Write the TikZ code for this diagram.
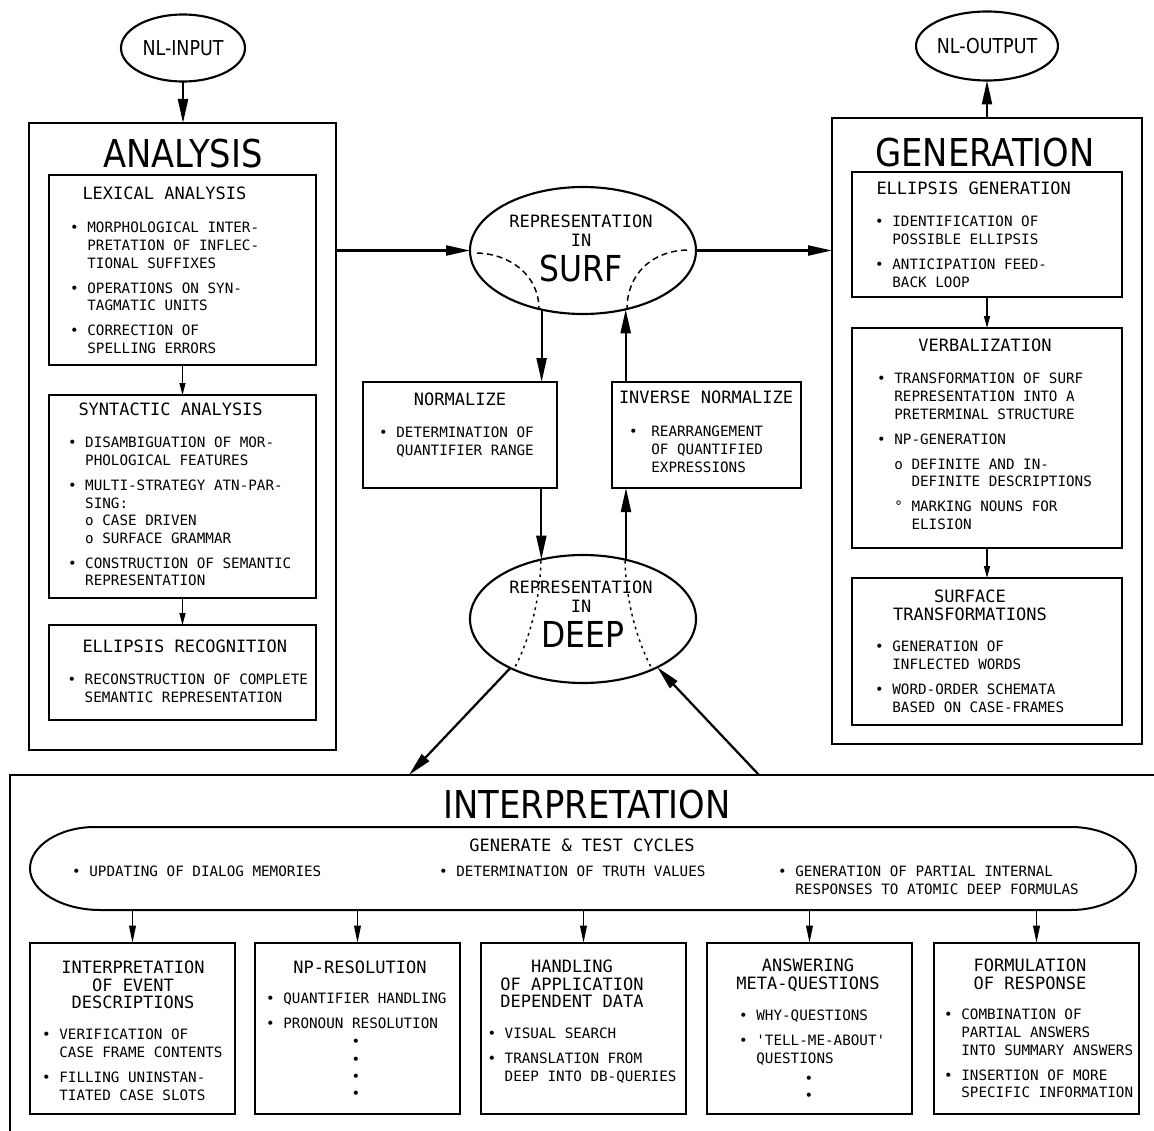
\documentclass[tikz,border=0pt]{standalone}
\usepackage{fontspec}
\setmainfont{DejaVu Sans Mono}
\newfontfamily\titlefam[FakeStretch=0.88]{DejaVu Sans}
\newfontfamily\ovalfam[FakeStretch=0.85]{DejaVu Sans}
\usetikzlibrary{arrows.meta,shapes.geometric}

\newcommand\bodyfont{\fontsize{10.7}{13.2}\selectfont}
\newcommand\headfont{\fontsize{12.75}{13.1}\selectfont}
\newcommand\bigfont{\titlefam\fontsize{28.8}{30}\selectfont}
\newcommand\surffont{\titlefam\fontsize{26.8}{28}\selectfont}
\newcommand\ovalfont{\ovalfam\fontsize{15.4}{16}\selectfont}
\newcommand\bi{\textbullet\ }
\newcommand\ci{\hspace*{1.204em}}
\newcommand\gap{5.55pt}
\def\px{*0.75pt}

\tikzset{every picture/.style={line width=0.75pt}}
\tikzset{
  outerbox/.style={draw, rectangle, anchor=north west, inner sep=0, outer sep=0, line width=2pt},
  inbox/.style={draw, rectangle, anchor=north west, inner sep=0, outer sep=0, line width=1.5pt},
  oval/.style={draw, ellipse, inner sep=0, outer sep=0, line width=1.6pt},
  hd/.style={font=\headfont, inner sep=0, align=center},
  hdl/.style={font=\headfont, inner sep=0, anchor=north west},
  bd/.style={font=\bodyfont, inner sep=0, align=left, anchor=north west},
  arr/.style={-{Triangle[length=18pt,width=7.5pt]}, line width=1.7pt},
  sarr/.style={-{Triangle[length=9pt,width=4.5pt]}, line width=1.1pt},
  iarr/.style={-{Triangle[length=13pt,width=5pt]}, line width=1.2pt},
  dsh/.style={dash pattern=on 4.5pt off 3pt, line width=1.1pt},
  dtt/.style={dash pattern=on 2pt off 3pt, line width=1.1pt}
}

\begin{document}
\begin{tikzpicture}[x=0.75pt,y=0.75pt,yscale=-1,xscale=1]
	\useasboundingbox (0,0) rectangle (1154,1131);

	%Shape: Ellipse [NL-INPUT / NL-OUTPUT]
	\node[oval, font=\ovalfont, minimum width=124\px, minimum height=67\px] (nlin) at (183,48) {NL-INPUT};
	\node[oval, font=\ovalfont, minimum width=122\px, minimum height=69\px] (nlout) at (987,46) {NL-OUTPUT};

	%Shape: Rectangle [ANALYSIS]
	\node[outerbox, minimum width=307\px, minimum height=627\px] (ana) at (29,123) {};
	\node[inbox, minimum width=267\px, minimum height=190\px] (lex) at (49,175) {};
	\node[inbox, minimum width=267\px, minimum height=203\px] (syn) at (49,395) {};
	\node[inbox, minimum width=267\px, minimum height=95\px] (ell) at (49,625) {};

	% Text Node
	\node[font=\bigfont, inner sep=0] (anat) at (183,154) {ANALYSIS};
	\node[hdl] (lext) at (82,186.8) {LEXICAL ANALYSIS};
	\node[bd] (lexb) at (69.7,221.8) {\bi MORPHOLOGICAL INTER-\\ \ci PRETATION OF INFLEC-\\ \ci TIONAL SUFFIXES\\[\gap]
		\bi OPERATIONS ON SYN-\\ \ci TAGMATIC UNITS\\[\gap]
		\bi CORRECTION OF\\ \ci SPELLING ERRORS};
	\node[hdl] (synt) at (78,402.8) {SYNTACTIC ANALYSIS};
	\node[bd] (synb) at (67.5,436.8) {\bi DISAMBIGUATION OF MOR-\\ \ci PHOLOGICAL FEATURES\\[\gap]
		\bi MULTI-STRATEGY ATN-PAR-\\ \ci SING:\\ \ci o CASE DRIVEN\\ \ci o SURFACE GRAMMAR\\[\gap]
		\bi CONSTRUCTION OF SEMANTIC\\ \ci REPRESENTATION};
	\node[hdl] (ellt) at (82,639.8) {ELLIPSIS RECOGNITION};
	\node[bd] (ellb) at (67,673.8) {\bi RECONSTRUCTION OF COMPLETE\\ \ci SEMANTIC REPRESENTATION};

	%Shape: Ellipse [SURF / DEEP]
	\node[oval, minimum width=226\px, minimum height=127\px] (surf) at (583,250.5) {};
	\node[oval, minimum width=226\px, minimum height=128\px] (deep) at (583,619) {};
	\draw[dsh] (477,253) .. controls (511,254) and (539,276) .. (539,309);
	\draw[dsh] (687,250) .. controls (652,251) and (627,274) .. (627,309);
	\draw[dtt] (541,561) .. controls (540,595) and (532,635) .. (514,669);
	\draw[dtt] (625,561) .. controls (626,595) and (634,635) .. (652,669);

	% Text Node
	\node[hd] (surfa) at (581,221) {REPRESENTATION};
	\node[hd] (surfb) at (581,240) {IN};
	\node[font=\surffont, inner sep=0] (surfc) at (581,268) {SURF};
	\node[hd] (deepa) at (581,587) {REPRESENTATION};
	\node[hd] (deepb) at (581,606) {IN};
	\node[font=\surffont, inner sep=0] (deepc) at (583,634) {DEEP};

	%Shape: Rectangle [NORMALIZE / INVERSE NORMALIZE]
	\node[inbox, minimum width=194\px, minimum height=106\px] (norm) at (363,382) {};
	\node[inbox, minimum width=189\px, minimum height=106\px] (inv) at (612,382) {};
	\node[hd] (normt) at (460,399) {NORMALIZE};
	\node[bd] (normb) at (378.7,426.8) {\bi DETERMINATION OF\\ \ci QUANTIFIER RANGE};
	\node[hd] (invt) at (706,397) {INVERSE NORMALIZE};
	\node[bd] (invb) at (628.7,425.8) {\bi\hspace{3.75pt}REARRANGEMENT\\ \ci\hspace*{3.75pt}OF QUANTIFIED\\ \ci\hspace*{3.75pt}EXPRESSIONS};

	%Shape: Rectangle [GENERATION]
	\node[outerbox, minimum width=310\px, minimum height=626\px] (gen) at (832,118) {};
	\node[inbox, minimum width=270\px, minimum height=125\px] (eg) at (852,172) {};
	\node[inbox, minimum width=270\px, minimum height=220\px] (vb) at (852,328) {};
	\node[inbox, minimum width=270\px, minimum height=147\px] (st) at (852,578) {};

	% Text Node
	\node[font=\bigfont, inner sep=0] (gent) at (985,152.5) {GENERATION};
	\node[hdl] (egt) at (876,181.8) {ELLIPSIS GENERATION};
	\node[bd] (egb) at (874.7,215.8) {\bi IDENTIFICATION OF\\ \ci POSSIBLE ELLIPSIS\\[\gap]
		\bi ANTICIPATION FEED-\\ \ci BACK LOOP};
	\node[hd] (vbt) at (985,345) {VERBALIZATION};
	\node[bd] (vbb) at (876.7,372.8) {\bi TRANSFORMATION OF SURF\\ \ci REPRESENTATION INTO A\\ \ci PRETERMINAL STRUCTURE\\[\gap]
		\bi NP-GENERATION\\[\gap]
		\ci o DEFINITE AND IN-\\ \ci\ci DEFINITE DESCRIPTIONS\\[\gap]
		\ci ° MARKING NOUNS FOR\\ \ci\ci ELISION};
	\node[hd, anchor=north] (stt) at (970,589.8) {SURFACE\\TRANSFORMATIONS};
	\node[bd] (stb) at (874.7,640.8) {\bi GENERATION OF\\ \ci INFLECTED WORDS\\[\gap]
		\bi WORD-ORDER SCHEMATA\\ \ci BASED ON CASE-FRAMES};

	%Shape: Rectangle [INTERPRETATION]
	\node[outerbox, minimum width=1170\px, minimum height=380\px] (intp) at (10,775) {};
	\node[font=\bigfont, inner sep=0] (intpt) at (587,805) {INTERPRETATION};

	%Shape: Rounded [GENERATE & TEST CYCLES]
	\draw[line width=1.5pt] (95,827) -- (1071,827) .. controls (1107,827) and (1136,846) .. (1136,868.5)
		.. controls (1136,891) and (1107,910) .. (1071,910) -- (100,910)
		.. controls (62,910) and (30,891) .. (30,868.5) .. controls (30,846) and (59,827) .. (95,827) -- cycle;
	\node[minimum width=1106\px, minimum height=83\px, inner sep=0, outer sep=0] (gt) at (583,868.5) {};
	\node[hd] (gtt) at (582,845) {GENERATE \& TEST CYCLES};
	\node[bd] (gta) at (71.7,865.8) {\bi UPDATING OF DIALOG MEMORIES};
	\node[bd] (gtb) at (438.7,865.8) {\bi DETERMINATION OF TRUTH VALUES};
	\node[bd] (gtc) at (777.7,865.8) {\bi GENERATION OF PARTIAL INTERNAL\\ \ci RESPONSES TO ATOMIC DEEP FORMULAS};

	%Shape: Rectangle [bottom row]
	\foreach \n/\x in {ev/30,np/255,ha/481,me/707,fo/934}{
		\node[inbox, minimum width=205\px, minimum height=171\px] (\n) at (\x,943) {};
		\draw[iarr] (\n.north |- gt.south) -- (\n.north);
	}

	% Text Node
	\node[hd, anchor=north] (evt) at (133,960.8) {INTERPRETATION\\OF EVENT\\DESCRIPTIONS};
	\node[bd] (evb) at (41.7,1028.8) {\bi VERIFICATION OF\\ \ci CASE FRAME CONTENTS\\[\gap]
		\bi FILLING UNINSTAN-\\ \ci TIATED CASE SLOTS};
	\node[hd, anchor=north] (npt) at (360,960.8) {NP-RESOLUTION};
	\node[bd] (npb) at (265.7,992.8) {\bi QUANTIFIER HANDLING\\[\gap] \bi PRONOUN RESOLUTION};
	\node[font=\fontsize{10.7}{13}\selectfont, inner sep=0, align=center] (npd) at (356,1069) {\textbullet\\\textbullet\\\textbullet\\\textbullet};
	\node[hd, anchor=north] (hat) at (572,959.8) {HANDLING\\OF APPLICATION\\DEPENDENT DATA};
	\node[bd] (hab) at (487,1027.8) {\bi VISUAL SEARCH\\[\gap]
		\bi TRANSLATION FROM\\ \ci DEEP INTO DB-QUERIES};
	\node[hd, anchor=north] (met) at (808,958.8) {ANSWERING\\META-QUESTIONS};
	\node[bd] (meb) at (738.7,1009.8) {\bi WHY-QUESTIONS\\[\gap]
		\bi \textquotesingle TELL-ME-ABOUT\textquotesingle\\ \ci QUESTIONS};
	\node[font=\fontsize{10.7}{13}\selectfont, inner sep=0, align=center] (med) at (809,1088.5) {\textbullet\\\textbullet};
	\node[hd, anchor=north] (fot) at (1030,958.8) {FORMULATION\\OF RESPONSE};
	\node[bd] (fob) at (943.7,1008.8) {\bi COMBINATION OF\\ \ci PARTIAL ANSWERS\\ \ci INTO SUMMARY ANSWERS\\[\gap]
		\bi INSERTION OF MORE\\ \ci SPECIFIC INFORMATION};

	%Straight Lines
	\draw[arr] (nlin.south) -- (nlin.south |- ana.north);
	\draw[arr] (gen.north -| nlout.south) -- (nlout.south);
	\draw[sarr] (lex.south) -- (syn.north);
	\draw[sarr] (syn.south) -- (ell.north);
	\draw[sarr] (eg.south) -- (vb.north);
	\draw[sarr] (vb.south) -- (st.north);
	\draw[arr] (ana.east |- surf.west) -- (surf.west);
	\draw[arr] (surf.east) -- (surf.east -| gen.west);
	\draw[arr] (surf.-125.5) -- (surf.-125.5 |- norm.north);
	\draw[arr] (deep.125.3 |- norm.south) -- (deep.125.3);
	\draw[arr] (deep.54.7) -- (deep.54.7 |- inv.south);
	\draw[arr] (surf.-54.5 |- inv.north) -- (surf.-54.5);
	\coordinate (ia) at (409,775);
	\coordinate (ib) at (759,775);
	\draw[arr] (deep.-146) -- (ia);
	\draw[arr] (ib) -- (deep.-33.5);

\end{tikzpicture}
\end{document}
